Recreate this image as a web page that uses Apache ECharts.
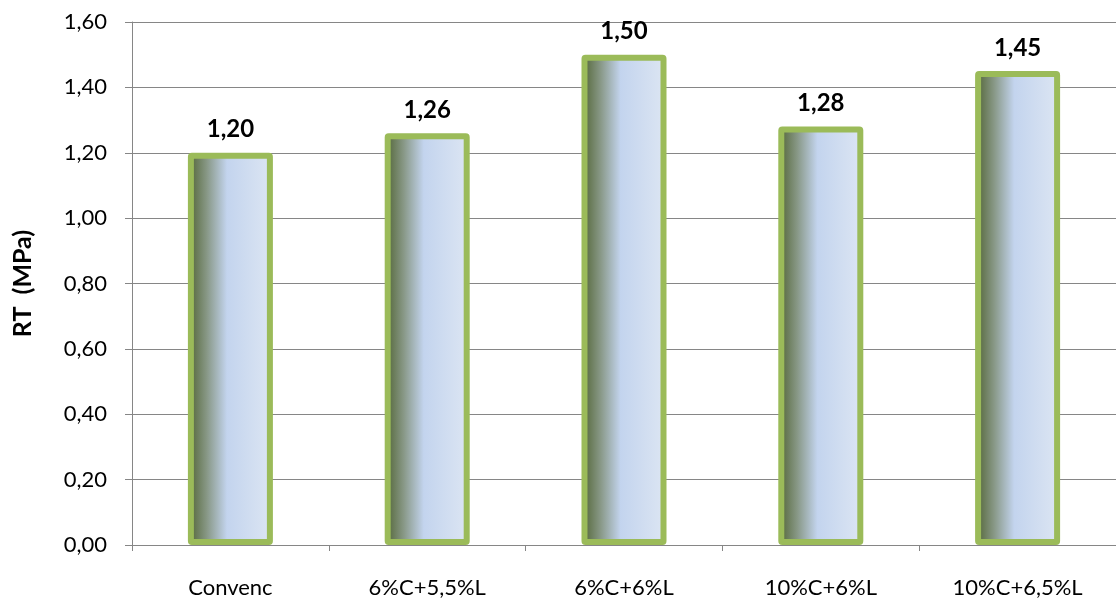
<!DOCTYPE html>
<html>
<head>
<meta charset="utf-8">
<script src="https://cdn.jsdelivr.net/npm/echarts@6/dist/echarts.min.js"></script>
<style>
  html, body { margin: 0; padding: 0; background: #ffffff; }
  #chart { width: 1116px; height: 600px; }
</style>
</head>
<body>
<div id="chart"></div>
<script>
// Tensile strength (RT) per mix
const categories = ['Convenc', '6%C+5,5%L', '6%C+6%L', '10%C+6%L', '10%C+6,5%L'];
const rtValues = [1.20, 1.26, 1.50, 1.28, 1.45];
const yTicks = { min: 0, max: 1.6, interval: 0.2 };

const fmt = v => v.toFixed(2).replace('.', ',');

const barFill = new echarts.graphic.LinearGradient(0, 0, 1, 0, [
  { offset: 0, color: '#4f6231' },
  { offset: 0.22, color: '#879785' },
  { offset: 0.46, color: '#c3d4ee' },
  { offset: 1, color: '#dde6f3' }
]);

const chart = echarts.init(document.getElementById('chart'), null, { renderer: 'canvas' });
chart.setOption({
  animation: false,
  backgroundColor: '#ffffff',
  textStyle: { fontFamily: 'Lato, "Open Sans", sans-serif' },
  grid: { left: 132, right: 0, top: 22, bottom: 55, containLabel: false },
  xAxis: {
    type: 'category',
    data: categories,
    axisLine: { lineStyle: { color: '#868686', width: 1 } },
    axisTick: { show: true, length: 6, lineStyle: { color: '#868686' } },
    axisLabel: { color: '#000', fontSize: 22, margin: 32, fontFamily: 'Lato, sans-serif' }
  },
  yAxis: {
    type: 'value',
    min: yTicks.min,
    max: yTicks.max,
    interval: yTicks.interval,
    name: 'RT  (MPa)',
    nameLocation: 'middle',
    nameGap: 97,
    nameTextStyle: { color: '#000', fontSize: 25, fontWeight: 'bold', fontFamily: 'Lato, sans-serif' },
    axisLine: { show: true, lineStyle: { color: '#868686', width: 1 } },
    axisTick: { show: true, length: 7, lineStyle: { color: '#868686' } },
    axisLabel: {
      color: '#000', fontSize: 22, margin: 25, fontFamily: 'Lato, sans-serif',
      formatter: v => fmt(v)
    },
    splitLine: { show: true, lineStyle: { color: '#868686', width: 1 } }
  },
  series: [{
    type: 'bar',
    data: rtValues,
    barWidth: 85,
    itemStyle: {
      color: barFill,
      borderColor: '#9bbb59',
      borderWidth: 6,
      borderRadius: 1
    },
    label: {
      show: true,
      position: 'top',
      distance: 11,
      color: '#000',
      fontSize: 24,
      fontWeight: 'bold',
      fontFamily: 'Lato, sans-serif',
      formatter: p => fmt(p.value)
    }
  }]
});
</script>
</body>
</html>
